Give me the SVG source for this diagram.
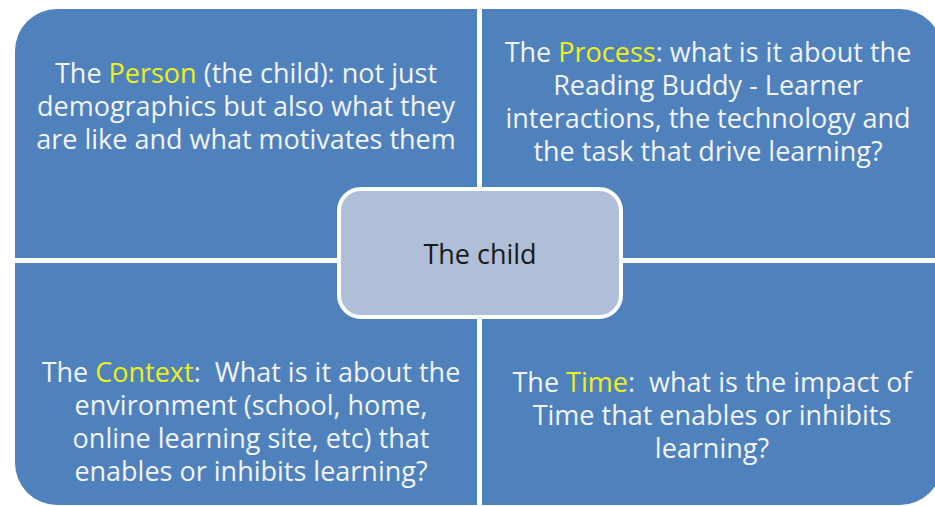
<svg xmlns="http://www.w3.org/2000/svg" width="935" height="506" viewBox="0 0 935 506">
<style>
.q{fill:#4f81bd}
.t{font-family:"Open Sans",Lato,"Liberation Sans",sans-serif;font-size:27px;fill:#f2f4f8;text-anchor:middle}
.y{fill:#eef01a}
.c{fill:#afbfd8;stroke:#ffffff;stroke-width:4}
.ct{font-family:"Open Sans",Lato,"Liberation Sans",sans-serif;font-size:27px;fill:#1a1a1a;text-anchor:middle}
</style>
<rect width="935" height="506" fill="#ffffff"/>
<g id="person">
<path class="q" d="M57,9 H477 V258 H15 V51 A42,42 0 0 1 57,9 Z"/>
<text class="t" x="246" y="83">The <tspan class="y">Person</tspan> (the child): not just</text>
<text class="t" x="246" y="116">demographics but also what they</text>
<text class="t" x="246" y="149">are like and what motivates them</text>
</g>
<g id="process">
<path class="q" d="M482,9 H900 A42,42 0 0 1 942,51 V258 H482 Z"/>
<text class="t" x="708" y="62">The <tspan class="y">Process</tspan>: what is it about the</text>
<text class="t" x="708" y="95">Reading Buddy - Learner</text>
<text class="t" x="708" y="128">interactions, the technology and</text>
<text class="t" x="708" y="161">the task that drive learning?</text>
</g>
<g id="context">
<path class="q" d="M15,263 H477 V505 H57 A42,42 0 0 1 15,463 Z"/>
<text class="t" x="251" y="382" xml:space="preserve">The <tspan class="y">Context</tspan>:  What is it about the</text>
<text class="t" x="251" y="415">environment (school, home,</text>
<text class="t" x="251" y="448">online learning site, etc) that</text>
<text class="t" x="251" y="481">enables or inhibits learning?</text>
</g>
<g id="time">
<path class="q" d="M482,263 H942 V463 A42,42 0 0 1 900,505 H482 Z"/>
<text class="t" x="712" y="392" xml:space="preserve">The <tspan class="y">Time</tspan>:  what is the impact of</text>
<text class="t" x="712" y="425">Time that enables or inhibits</text>
<text class="t" x="712" y="458">learning?</text>
</g>
<g id="child">
<rect class="c" x="339" y="189" width="282" height="128" rx="22"/>
<text class="ct" x="480" y="264">The child</text>
</g>
<g id="connectors"></g>
</svg>
